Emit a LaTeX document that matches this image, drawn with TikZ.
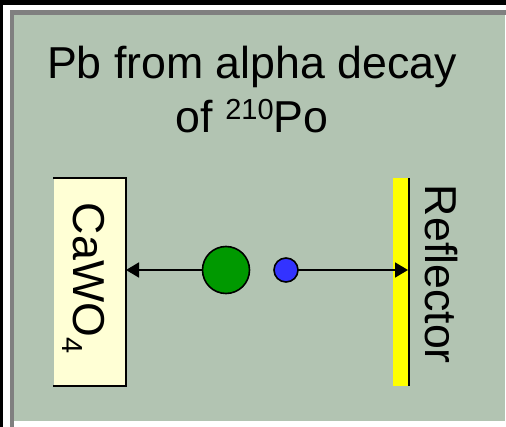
\documentclass[tikz,border=0pt]{standalone}
\usepackage{fontspec}
\setmainfont{Liberation Sans}
\usetikzlibrary{arrows.meta}
\definecolor{bggreen}{HTML}{B2C4B2}
\definecolor{framegray}{HTML}{808080}
\definecolor{boxyellow}{HTML}{FFFFD5}
\definecolor{baryellow}{HTML}{FFFF00}
\definecolor{ballgreen}{HTML}{009900}
\definecolor{ballblue}{HTML}{3333FF}
\newcommand{\bigfont}{\fontsize{44.7}{53}\selectfont}
\newcommand{\supfont}{\fontsize{29}{29}\selectfont}
\tikzset{
  txt/.style={inner sep=0pt, outer sep=0pt, font=\bigfont, text=black},
  ball/.style={circle, draw=black, line width=1.6pt, inner sep=0pt, outer sep=0pt},
  flyarrow/.style={line width=1.6pt, -{Triangle[length=13pt,width=15pt]}},
  blockline/.style={line width=1.8pt, line cap=rect},
}
\begin{document}
\begin{tikzpicture}[x=1pt,y=-1pt]
\useasboundingbox (0,0) rectangle (506,427);
% frame
\fill[black] (0,0) rectangle (506,427);
\fill[white] (3,5.5) rectangle (506,427);
\fill[framegray] (9.5,10) rectangle (506,427);
\fill[white] (14,15) rectangle (506,427);
\fill[bggreen] (14,15) rectangle (504.5,421);
% title
\node[txt, anchor=base] (t1) at (252,79) {Pb from alpha decay};
\node[txt, anchor=base] (t2) at (252,133) {of \raisebox{13.4pt}{\supfont 210}Po};
% CaWO4 block
\node[rectangle, fill=boxyellow, inner sep=0pt, outer sep=0pt,
      minimum width=72pt, minimum height=208pt] (caw) at (90,282) {};
\draw[blockline] (caw.north west) -- (caw.north east) -- (caw.south east) -- (caw.south west);
\node[txt, rotate=-90, anchor=base west] (cawlabel) at (73,203) {CaWO\raisebox{-10.5pt}{\supfont 4}};
% reflector
\node[rectangle, fill=baryellow, inner sep=0pt, outer sep=0pt,
      minimum width=15pt, minimum height=208pt] (refl) at (400.5,282) {};
\draw[line width=1.7pt] (refl.north east) ++(0.9,0) coordinate (rtop) -- (refl.south east -| rtop);
\node[txt, rotate=-90, anchor=base west] (refllabel) at (425,185) {Reflector};
% balls
\node[ball, fill=ballgreen, minimum size=47pt] (pb) at (226,270) {};
\node[ball, fill=ballblue, minimum size=24pt] (alpha) at (286,270) {};
% arrows
\draw[flyarrow] (pb.west) -- (caw.east |- pb.west);
\draw[flyarrow] (alpha.east) -- (refl.east |- alpha.east);
\end{tikzpicture}
\end{document}
